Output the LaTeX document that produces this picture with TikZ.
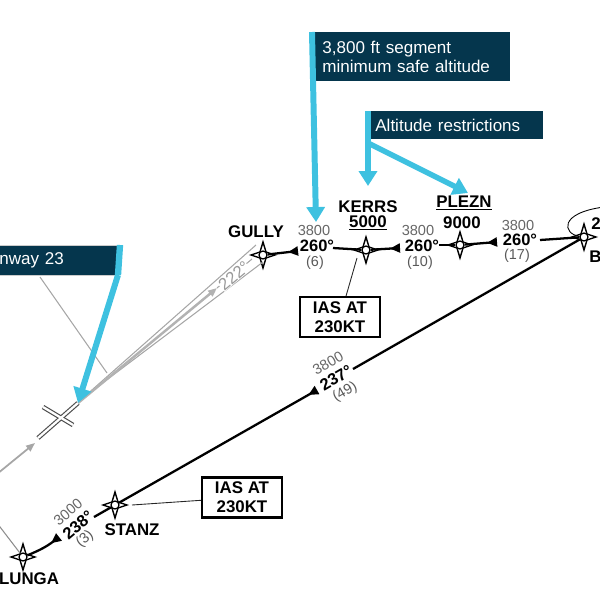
\documentclass[tikz,border=0pt]{standalone}
\usepackage{fontspec}
\setmainfont{Liberation Sans}
\usepackage{tikz}
\usetikzlibrary{arrows.meta,positioning,shapes.geometric}
\newlength{\px}
\setlength{\px}{0.02cm}
\definecolor{navybox}{HTML}{05364D}
\definecolor{blueline}{HTML}{3EC1E0}

\begin{document}
\begin{tikzpicture}[x=0.02cm,y=-0.02cm,
    callout/.style={fill=navybox,text=white,font=\fontsize{9.7}{11.2}\selectfont,align=left,inner sep=0pt,text width=#1,minimum height=28\px,anchor=north west},
    fix/.style={font=\bfseries\fontsize{9.6}{10}\selectfont,inner sep=0pt},
    minalt/.style={font=\fontsize{8.3}{9}\selectfont,text=black!60,inner sep=0pt},
    course/.style={font=\bfseries\fontsize{9.4}{10}\selectfont,inner sep=0pt},
    dist/.style={font=\fontsize{8.2}{9}\selectfont,text=black!65,inner sep=0pt},
    speed/.style={draw,line width=1.2pt,align=center,font=\bfseries\fontsize{9.6}{11}\selectfont,minimum width=80\px,minimum height=40\px,inner sep=0pt,fill=white},
    waypoint/.style={circle,draw,fill=white,line width=0.7pt,minimum size=8\px,inner sep=0pt},
    leg/.style={line width=1.3pt},
    legtip/.style={leg,-{Triangle[reversed,length=5.7pt,width=5.1pt]}},
    lead/.style={line width=0.5pt,black!85},
    pointer/.style={line width=#1,blueline,-{Triangle[length=8.5pt,width=10.2pt]}},
    track/.style={black!35,line width=0.6pt},
    star/.pic={\draw[fill=white,line width=0.8pt] (0,-13) -- (3,-3) -- (12,0) -- (3,3) -- (0,13) -- (-3,3) -- (-12,0) -- (-3,-3) -- cycle;}]

    \useasboundingbox (0,0) rectangle (600,600);
    \clip (0,0) rectangle (600,600);

    \coordinate (rwyend) at (78,403);
    \coordinate (rwystart) at (38,438);
    \coordinate (crossa) at (43,407);
    \coordinate (crossb) at (73,425);
    \coordinate (wedgeup) at (256,245);
    \coordinate (wedgelow) at (263,262);
    \coordinate (wedgetail) at (84,397);
    \coordinate (trackmid) at (217,288);
    \coordinate (trackend) at (252,259);
    \coordinate (missa) at (-3,474);
    \coordinate (missb) at (35,443);
    \coordinate (lungain) at (-3,523);
    \coordinate (boxfoot) at (40,277);
    \coordinate (boxleader) at (107,373);

    \pic at (263,255) {star};
    \pic at (366,250) {star};
    \pic at (460,245) {star};
    \pic at (584,237) {star};
    \pic at (115,505) {star};
    \pic at (23,557) {star};
    \node[waypoint] (gully) at (263,255) {};
    \node[waypoint] (kerrs) at (366,250) {};
    \node[waypoint] (plezn) at (460,245) {};
    \node[waypoint] (bwp) at (584,237) {};
    \node[waypoint] (stanz) at (115,505) {};
    \node[waypoint] (lunga) at (23,557) {};

    \coordinate (tipa) at (298,251);
    \coordinate (resumea) at (333,248);
    \coordinate (tipb) at (400,248);
    \coordinate (resumeb) at (439,245);
    \coordinate (tipc) at (497,242);
    \coordinate (resumec) at (540,240);
    \coordinate (tipd) at (317,390);
    \coordinate (resumed) at (353,369);
    \coordinate (tipe) at (59,537);
    \coordinate (resumee) at (94,517);
    \coordinate (holdend) at (604,207);

    \path[track]
      (wedgetail) edge (wedgeup)
      (wedgetail) edge (wedgelow)
      (boxfoot) edge (boxleader)
      (lungain) edge[black!45] (lunga)
      (trackmid) edge (trackend);
    \draw[black!30,line width=1.4pt,-{Triangle[length=5.1pt,width=4pt]}] (rwyend) -- (trackmid);
    \draw[black!35,line width=1pt,-{Triangle[length=5.1pt,width=4pt]}] (missa) -- (missb);
    \node[rotate=40,fill=white,inner sep=0pt,text=black!40,font=\fontsize{9.6}{10}\selectfont] (bearing) at (234,276) {222°};

    \path[leg]
      (resumea) edge (kerrs)
      (resumeb) edge (plezn)
      (resumec) edge (bwp)
      (resumed) edge (bwp)
      (resumee) edge (stanz);
    \path[legtip]
      (gully) edge (tipa)
      (kerrs) edge (tipb)
      (plezn) edge (tipc)
      (stanz) edge (tipd)
      (lunga) edge[bend right=8] (tipe);
    \draw[line width=0.5pt] (bwp) .. controls (563,234) and (558,213) .. (holdend);

    \node[fix] (gullytxt) at (256,232) {GULLY};
    \node[fix] (kerrstxt) at (368,207) {KERRS};
    \node[fix] (kerrsalt) at (368,223) {\underline{5000}};
    \node[fix] (plezntxt) at (464,203) {\underline{PLEZN}};
    \node[fix] (pleznalt) at (462,223) {9000};
    \node[fix] (stanztxt) at (132,530) {STANZ};
    \node[fix] (lungatxt) at (29,579) {LUNGA};
    \node[fix,anchor=west] (btxt) at (589,257) {B};
    \node[fix,anchor=west] (holdtxt) at (591,224) {2};

    \node[minalt] (alta) at (314,230) {3800};
    \node[course] (cra) at (317,246) {260°};
    \node[dist] (dista) at (315,263) {(6)};
    \node[minalt] (altb) at (418,230) {3800};
    \node[course] (crb) at (422,246) {260°};
    \node[dist] (distb) at (420,263) {(10)};
    \node[minalt] (altc) at (518,225) {3800};
    \node[course] (crc) at (520,240) {260°};
    \node[dist] (distc) at (517,256) {(17)};
    \node[minalt,rotate=30] (altd) at (328,363) {3800};
    \node[course,rotate=30] (crd) at (336,378) {237°};
    \node[dist,rotate=30] (distd) at (345,392) {(49)};
    \node[minalt,rotate=40] (alte) at (68,512) {3000};
    \node[course,rotate=40] (cre) at (78,525) {238°};
    \node[dist,rotate=40] (diste) at (85,539) {(3)};

    \node[speed] (speeda) at (340,317) {IAS AT\\230KT};
    \node[speed] (speedb) at (242,497.5) {IAS AT\\230KT};
    \coordinate (leadb) at (132,505);
    \coordinate (leada) at (357,258);
    \path[lead]
      (speeda) edge (leada)
      (speedb) edge (leadb);

    \draw[black!70,line width=2.6pt] (rwystart) -- (rwyend);
    \draw[black!70,line width=2.6pt] (crossa) -- (crossb);
    \draw[white,line width=1.3pt] (rwystart) -- (rwyend);
    \draw[white,line width=1.3pt] (crossa) -- (crossb);

    \node[callout=195\px,minimum height=49\px] (segbox) at (315,32) {\hspace*{7\px}3,800 ft segment\\\hspace*{7\px}minimum safe altitude};
    \node[callout=172\px] (restbox) at (371,111) {\hspace*{4\px}Altitude restrictions};
    \node[callout=126\px,minimum height=30\px,draw=black!20,line width=0.4pt] (rwybox) at (-8,245) {\hspace*{7\px}nway 23};

    \coordinate (segfoot) at (312,32);
    \coordinate (segtip) at (316,222);
    \coordinate (restfoot) at (368,111);
    \coordinate (resttip) at (368,186);
    \coordinate (restfork) at (368,143);
    \coordinate (plezntip) at (468,193);
    \coordinate (rwyfoot) at (120,245);
    \coordinate (rwybend) at (118,275);

    \draw[pointer=3.4pt] (segfoot) -- (segtip);
    \draw[pointer=3.1pt] (restfoot) -- (resttip);
    \draw[pointer=3.1pt] (restfork) -- (plezntip);
    \draw[blueline,line width=3.6pt] (rwyfoot) -- (rwybend);
    \draw[pointer=3.4pt] (rwybend) -- (rwyend);
  \end{tikzpicture}
\end{document}
